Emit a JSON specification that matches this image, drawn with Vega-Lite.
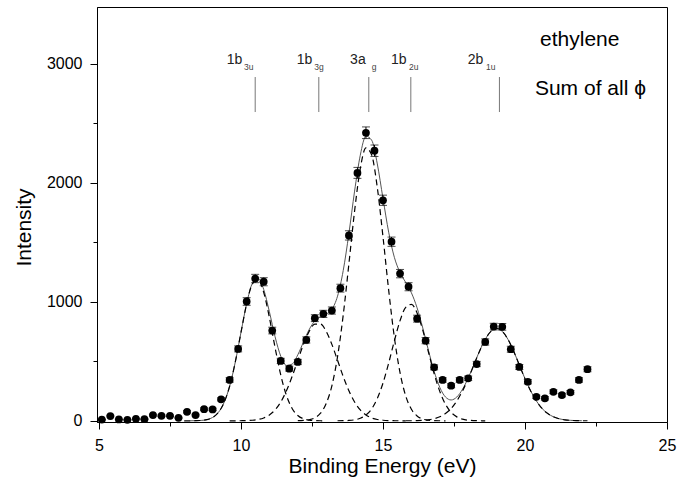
{
"$schema": "https://vega.github.io/schema/vega-lite/v6.json",
"width": 570, "height": 415,
"autosize": {"type": "none"},
"padding": {"left": 97, "top": 7, "right": 29, "bottom": 70},
"background": "white",
"config": {
  "font": "Liberation Sans",
  "view": {"stroke": "black", "strokeWidth": 1},
  "axis": {"grid": false, "domainColor": "black", "domainWidth": 1, "tickColor": "black", "tickWidth": 1, "labelColor": "black", "titleColor": "black", "labelFontSize": 16, "titleFontSize": 21, "titleFontWeight": "normal", "labelFlush": false, "labelOverlap": false}
},
"datasets": {
  "dots": [
    {"x":5.1,"y":10,"err":3},{"x":5.4,"y":40,"err":6},{"x":5.7,"y":12,"err":3},{"x":6.0,"y":8,"err":3},
    {"x":6.3,"y":17,"err":4},{"x":6.6,"y":14,"err":4},{"x":6.9,"y":48,"err":7},{"x":7.2,"y":42,"err":6},
    {"x":7.5,"y":42,"err":6},{"x":7.8,"y":25,"err":5},{"x":8.1,"y":76,"err":9},{"x":8.4,"y":48,"err":7},
    {"x":8.7,"y":98,"err":10},{"x":9.0,"y":96,"err":10},{"x":9.3,"y":180,"err":13},{"x":9.6,"y":343,"err":19},
    {"x":9.9,"y":604,"err":25},{"x":10.2,"y":1002,"err":32},{"x":10.5,"y":1195,"err":35},{"x":10.8,"y":1168,"err":34},
    {"x":11.1,"y":758,"err":28},{"x":11.4,"y":503,"err":22},{"x":11.7,"y":438,"err":21},{"x":12.0,"y":494,"err":22},
    {"x":12.3,"y":679,"err":26},{"x":12.6,"y":862,"err":29},{"x":12.9,"y":898,"err":30},{"x":13.2,"y":926,"err":30},
    {"x":13.5,"y":1114,"err":33},{"x":13.8,"y":1557,"err":39},{"x":14.1,"y":2082,"err":46},{"x":14.4,"y":2419,"err":49},
    {"x":14.7,"y":2268,"err":48},{"x":15.0,"y":1852,"err":43},{"x":15.3,"y":1504,"err":39},{"x":15.6,"y":1236,"err":35},
    {"x":15.9,"y":1126,"err":34},{"x":16.2,"y":858,"err":29},{"x":16.5,"y":673,"err":26},{"x":16.8,"y":449,"err":21},
    {"x":17.1,"y":343,"err":19},{"x":17.4,"y":295,"err":17},{"x":17.7,"y":343,"err":19},{"x":18.0,"y":357,"err":19},
    {"x":18.3,"y":477,"err":22},{"x":18.6,"y":662,"err":26},{"x":18.9,"y":791,"err":28},{"x":19.2,"y":789,"err":28},
    {"x":19.5,"y":601,"err":25},{"x":19.8,"y":452,"err":21},{"x":20.1,"y":328,"err":18},{"x":20.4,"y":202,"err":14},
    {"x":20.7,"y":189,"err":14},{"x":21.0,"y":244,"err":16},{"x":21.3,"y":216,"err":15},{"x":21.6,"y":239,"err":15},
    {"x":21.9,"y":343,"err":19},{"x":22.2,"y":433,"err":21}
  ],
  "fit": [
    {"x":8.0,"c1":0},
    {"x":8.2,"c1":0.2,"tot":0.2},
    {"x":8.4,"c1":0.9,"tot":0.9},
    {"x":8.6,"c1":3.1,"tot":3.1},
    {"x":8.8,"c1":9.9,"tot":9.9},
    {"x":9.0,"c1":28,"tot":28},
    {"x":9.2,"c1":69,"tot":69},
    {"x":9.4,"c1":151,"tot":151},
    {"x":9.6,"c1":290,"c2":0,"tot":290},
    {"x":9.8,"c1":494,"c2":0.2,"tot":494},
    {"x":10.0,"c1":742,"c2":0.7,"tot":743},
    {"x":10.2,"c1":983,"c2":1.8,"tot":985},
    {"x":10.4,"c1":1149,"c2":4.7,"tot":1154},
    {"x":10.6,"c1":1185,"c2":11,"tot":1196},
    {"x":10.8,"c1":1079,"c2":24,"tot":1103},
    {"x":11.0,"c1":867,"c2":49,"tot":916},
    {"x":11.2,"c1":615,"c2":91,"tot":706},
    {"x":11.4,"c1":385,"c2":158,"tot":543},
    {"x":11.6,"c1":213,"c2":252,"tot":465},
    {"x":11.8,"c1":104,"c2":372,"tot":476},
    {"x":12.0,"c1":45,"c2":508,"c3":0.9,"tot":554},
    {"x":12.2,"c1":17,"c2":642,"c3":2.9,"tot":662},
    {"x":12.4,"c1":5.7,"c2":751,"c3":9.1,"tot":766},
    {"x":12.6,"c1":1.7,"c2":812,"c3":25,"tot":839},
    {"x":12.8,"c1":0.4,"c2":812,"c3":64,"tot":876},
    {"x":13.0,"c1":0,"c2":751,"c3":145,"tot":896},
    {"x":13.2,"c2":642,"c3":294,"tot":936},
    {"x":13.4,"c2":508,"c3":539,"c4":0.3,"tot":1047},
    {"x":13.6,"c2":372,"c3":889,"c4":1,"tot":1262},
    {"x":13.8,"c2":252,"c3":1319,"c4":3,"tot":1574},
    {"x":14.0,"c2":158,"c3":1762,"c4":8.5,"tot":1929},
    {"x":14.2,"c2":91,"c3":2118,"c4":21,"tot":2230},
    {"x":14.4,"c2":49,"c3":2292,"c4":49,"tot":2390},
    {"x":14.6,"c2":24,"c3":2233,"c4":100,"tot":2357},
    {"x":14.8,"c2":11,"c3":1958,"c4":188,"tot":2157},
    {"x":15.0,"c2":4.7,"c3":1545,"c4":317,"tot":1867},
    {"x":15.2,"c2":1.8,"c3":1097,"c4":485,"tot":1584},
    {"x":15.4,"c2":0.7,"c3":701,"c4":671,"tot":1373},
    {"x":15.6,"c2":0.2,"c3":404,"c4":841,"tot":1245},
    {"x":15.8,"c2":0,"c3":209,"c4":953,"c5":0.3,"tot":1162},
    {"x":16.0,"c3":97,"c4":977,"c5":0.7,"tot":1075},
    {"x":16.2,"c3":41,"c4":906,"c5":1.7,"tot":949},
    {"x":16.4,"c3":15,"c4":761,"c5":3.9,"tot":780},
    {"x":16.6,"c3":5.3,"c4":578,"c5":8.5,"tot":592},
    {"x":16.8,"c3":1.6,"c4":397,"c5":17.5,"tot":416},
    {"x":17.0,"c3":0.4,"c4":247,"c5":34,"tot":281},
    {"x":17.2,"c3":0,"c4":139,"c5":61,"tot":200},
    {"x":17.4,"c4":71,"c5":104,"tot":175},
    {"x":17.6,"c4":33,"c5":167,"tot":200},
    {"x":17.8,"c4":14,"c5":251,"tot":265},
    {"x":18.0,"c4":5.1,"c5":354,"tot":359},
    {"x":18.2,"c4":1.8,"c5":469,"tot":471},
    {"x":18.4,"c4":0.5,"c5":585,"tot":586},
    {"x":18.6,"c4":0,"c5":684,"tot":684},
    {"x":18.8,"c5":751,"tot":751},
    {"x":19.0,"c5":775,"tot":775},
    {"x":19.2,"c5":751,"tot":751},
    {"x":19.4,"c5":684,"tot":684},
    {"x":19.6,"c5":585,"tot":585},
    {"x":19.8,"c5":469,"tot":469},
    {"x":20.0,"c5":354,"tot":354},
    {"x":20.2,"c5":251,"tot":251},
    {"x":20.4,"c5":167,"tot":167},
    {"x":20.6,"c5":104,"tot":104},
    {"x":20.8,"c5":61,"tot":61},
    {"x":21.0,"c5":34,"tot":34},
    {"x":21.2,"c5":17.5,"tot":17.5},
    {"x":21.4,"c5":8.5,"tot":8.5},
    {"x":21.6,"c5":3.9,"tot":3.9},
    {"x":21.8,"c5":1.7,"tot":1.7},
    {"x":22.0,"c5":0.7,"tot":0.7},
    {"x":22.2,"c5":0.3}
  ],
  "orbitals": [
    {"x":10.50,"mx":10.046,"sx":10.11,"m":"1b","s":"3u"},
    {"x":12.74,"mx":12.51,"sx":12.58,"m":"1b","s":"3g"},
    {"x":14.50,"mx":14.39,"sx":14.60,"m":"3a","s":"g"},
    {"x":15.98,"mx":15.83,"sx":15.92,"m":"1b","s":"2u"},
    {"x":19.10,"mx":18.53,"sx":18.63,"m":"2b","s":"1u"}
  ],
  "notes": [
    {"x":20.53,"y":3146,"t":"ethylene"},
    {"x":20.35,"y":2733,"t":"Sum of all ϕ"}
  ]
},
"layer": [
  {"data": {"name": "fit"},
   "mark": {"type": "line", "color": "#555555", "strokeWidth": 1, "interpolate": "monotone"},
   "encoding": {
     "x": {"field": "x", "type": "quantitative",
       "scale": {"domain": [4.93, 25], "nice": false, "zero": false},
       "axis": {"title": "Binding Energy (eV)", "values": [5, 7.5, 10, 12.5, 15, 17.5, 20, 22.5, 25],
         "labelExpr": "datum.value % 5 === 0 ? datum.label : ''",
         "tickSize": {"condition": {"test": "datum.value % 5 === 0", "value": 7}, "value": 4},
         "labelPadding": 8, "titlePadding": 2}},
     "y": {"field": "tot", "type": "quantitative",
       "scale": {"domain": [-10, 3475], "nice": false, "zero": false},
       "axis": {"title": "Intensity", "values": [0, 500, 1000, 1500, 2000, 2500, 3000], "format": "d",
         "labelExpr": "datum.value % 1000 === 0 ? datum.label : ''",
         "tickSize": {"condition": {"test": "datum.value % 1000 === 0", "value": 7}, "value": 4},
         "labelPadding": 8, "titlePadding": 12, "titleY": 220}}}},
  {"data": {"name": "fit"},
   "mark": {"type": "line", "color": "black", "strokeWidth": 1.2, "strokeDash": [6, 4], "interpolate": "monotone"},
   "encoding": {"x": {"field": "x", "type": "quantitative", "title": "Binding Energy (eV)"},
     "y": {"field": "c1", "type": "quantitative", "title": "Intensity"}}},
  {"data": {"name": "fit"},
   "mark": {"type": "line", "color": "black", "strokeWidth": 1.2, "strokeDash": [6, 4], "interpolate": "monotone"},
   "encoding": {"x": {"field": "x", "type": "quantitative", "title": "Binding Energy (eV)"},
     "y": {"field": "c2", "type": "quantitative", "title": "Intensity"}}},
  {"data": {"name": "fit"},
   "mark": {"type": "line", "color": "black", "strokeWidth": 1.2, "strokeDash": [6, 4], "interpolate": "monotone"},
   "encoding": {"x": {"field": "x", "type": "quantitative", "title": "Binding Energy (eV)"},
     "y": {"field": "c3", "type": "quantitative", "title": "Intensity"}}},
  {"data": {"name": "fit"},
   "mark": {"type": "line", "color": "black", "strokeWidth": 1.2, "strokeDash": [6, 4], "interpolate": "monotone"},
   "encoding": {"x": {"field": "x", "type": "quantitative", "title": "Binding Energy (eV)"},
     "y": {"field": "c4", "type": "quantitative", "title": "Intensity"}}},
  {"data": {"name": "fit"},
   "mark": {"type": "line", "color": "black", "strokeWidth": 1.2, "strokeDash": [6, 4], "interpolate": "monotone"},
   "encoding": {"x": {"field": "x", "type": "quantitative", "title": "Binding Energy (eV)"},
     "y": {"field": "c5", "type": "quantitative", "title": "Intensity"}}},
  {"data": {"name": "dots"},
   "mark": {"type": "errorbar", "ticks": {"size": 8, "color": "black"}, "rule": {"color": "black"}},
   "encoding": {"x": {"field": "x", "type": "quantitative", "title": "Binding Energy (eV)"},
     "y": {"field": "y", "type": "quantitative", "title": "Intensity"},
     "yError": {"field": "err"}}},
  {"data": {"name": "dots"},
   "mark": {"type": "point", "shape": "circle", "filled": true, "color": "black", "size": 60, "opacity": 1},
   "encoding": {"x": {"field": "x", "type": "quantitative", "title": "Binding Energy (eV)"},
     "y": {"field": "y", "type": "quantitative", "title": "Intensity"}}},
  {"data": {"name": "orbitals"},
   "mark": {"type": "rule", "color": "#777777", "strokeWidth": 1},
   "encoding": {"x": {"field": "x", "type": "quantitative", "title": "Binding Energy (eV)"},
     "y": {"datum": 2593, "type": "quantitative", "title": "Intensity"},
     "y2": {"datum": 2887}}},
  {"data": {"name": "orbitals"},
   "mark": {"type": "text", "align": "right", "baseline": "alphabetic", "fontSize": 14, "color": "#222222"},
   "encoding": {"x": {"field": "mx", "type": "quantitative", "title": "Binding Energy (eV)"},
     "y": {"datum": 3000, "type": "quantitative", "title": "Intensity"},
     "text": {"field": "m"}}},
  {"data": {"name": "orbitals"},
   "mark": {"type": "text", "align": "left", "baseline": "alphabetic", "fontSize": 8.5, "color": "#444444"},
   "encoding": {"x": {"field": "sx", "type": "quantitative", "title": "Binding Energy (eV)"},
     "y": {"datum": 2950, "type": "quantitative", "title": "Intensity"},
     "text": {"field": "s"}}},
  {"data": {"name": "notes"},
   "mark": {"type": "text", "align": "left", "baseline": "alphabetic", "fontSize": 21, "color": "black"},
   "encoding": {"x": {"field": "x", "type": "quantitative", "title": "Binding Energy (eV)"},
     "y": {"field": "y", "type": "quantitative", "title": "Intensity"},
     "text": {"field": "t"}}}
]
}
